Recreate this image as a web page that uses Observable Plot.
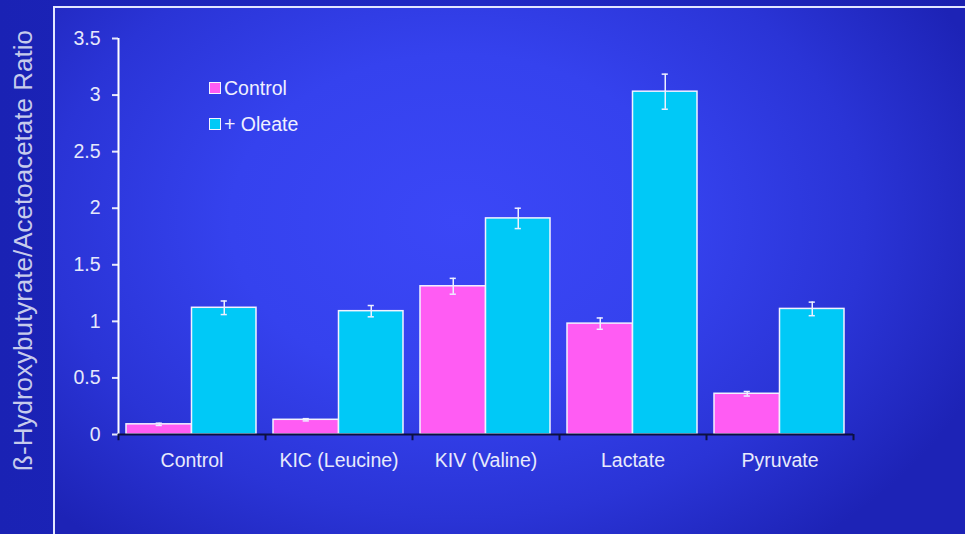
<!DOCTYPE html>
<html>
<head>
<meta charset="utf-8">
<script src="https://cdn.jsdelivr.net/npm/d3@7"></script>
<script src="https://cdn.jsdelivr.net/npm/@observablehq/plot@0.6"></script>
<style>
  html, body { margin: 0; padding: 0; background: #1c24b8; }
  #chart {
    position: relative; width: 965px; height: 534px; overflow: hidden;
    background: linear-gradient(90deg, #1a22b4 0%, #2029c6 50%, #1a20b0 100%);
    font-family: "Liberation Sans", Arial, Helvetica, sans-serif;
  }
  #panel {
    position: absolute; left: 53px; top: 6px; right: -4px; bottom: -4px;
    border-left: 2px solid #e2e6ff; border-top: 2px solid #e2e6ff;
    background: radial-gradient(ellipse 62% 78% at 44% 40%, #3b47f7 0%, #3542ee 40%, #2a34d6 72%, #1d23b6 100%);
  }
  #chart svg { position: absolute; left: 0; top: 0; overflow: visible; }
  #chart svg g[aria-label^="y-axis"] line, #chart svg g[aria-label^="y-axis"] path { stroke-width: 2px; }
  .legend { position: absolute; left: 209px; top: 70px; color: #f0f0ff; font-size: 19.5px; line-height: 36px; }
  .legend .item { display: flex; align-items: center; height: 36px; }
  .legend .sw { width: 10px; height: 10px; border: 1px solid #f4f4ff; margin-right: 3px; }
</style>
</head>
<body>
<div id="chart"><div id="panel"></div></div>
<script>
// Ratio of β-hydroxybutyrate to acetoacetate, mean ± error, per substrate
const categories = ["Control", "KIC (Leucine)", "KIV (Valine)", "Lactate", "Pyruvate"];
const series = ["Control", "+ Oleate"];
const controlMean = [0.09, 0.13, 1.31, 0.98, 0.36];
const controlErr  = [0.01, 0.01, 0.07, 0.05, 0.02];
const oleateMean  = [1.12, 1.09, 1.91, 3.03, 1.11];
const oleateErr   = [0.06, 0.05, 0.09, 0.155, 0.06];
const yTicks = [0, 0.5, 1, 1.5, 2, 2.5, 3, 3.5];
const colors = ["#ff5cf3", "#00c9f7"];

// one row per category and series; each category occupies one unit on x
const rows = categories.flatMap((c, i) => [
  {cat: c, s: 0, x1: i, x2: i + 0.5, v: controlMean[i], e: controlErr[i]},
  {cat: c, s: 1, x1: i + 0.5, x2: i + 1, v: oleateMean[i], e: oleateErr[i]}
]);
const ctrl = rows.filter(d => d.s === 0);
const olea = rows.filter(d => d.s === 1);
const boundaries = d3.range(categories.length + 1);

const errMarks = (data, dx) => [
  Plot.ruleX(data, {x: d => (d.x1 + d.x2) / 2, y1: d => d.v - d.e, y2: d => d.v + d.e, dx, stroke: "#eef0ff", strokeWidth: 1.5}),
  Plot.ruleY(data, {x1: d => (d.x1 + d.x2) / 2 - 0.021, x2: d => (d.x1 + d.x2) / 2 + 0.021, y: d => d.v + d.e, dx, stroke: "#eef0ff", strokeWidth: 1.5}),
  Plot.ruleY(data, {x1: d => (d.x1 + d.x2) / 2 - 0.021, x2: d => (d.x1 + d.x2) / 2 + 0.021, y: d => d.v - d.e, dx, stroke: "#eef0ff", strokeWidth: 1.5})
];

const chart = Plot.plot({
  width: 965,
  height: 534,
  marginLeft: 118,
  marginRight: 112,
  marginTop: 38,
  marginBottom: 100,
  style: {background: "transparent", color: "#e6e8fb", fontFamily: "'Liberation Sans', Arial, sans-serif", fontSize: "19.5px"},
  x: {domain: [0, categories.length], axis: null},
  y: {domain: [0, 3.5], ticks: yTicks, tickSize: 6, tickPadding: 12, tickFormat: d => String(d), label: null},
  marks: [
    // bars
    Plot.rectY(ctrl, {x1: "x1", x2: "x2", y1: 0, y2: "v", fill: colors[0], stroke: "#f2f2ff", strokeWidth: 1.5, insetLeft: 8}),
    Plot.rectY(olea, {x1: "x1", x2: "x2", y1: 0, y2: "v", fill: colors[1], stroke: "#f2f2ff", strokeWidth: 1.5, insetRight: 9}),
    // error bars
    ...errMarks(ctrl, 4),
    ...errMarks(olea, -4.5),
    // y axis line
    Plot.ruleX([0], {y1: 0, y2: 3.5, stroke: "#ffffff", strokeWidth: 2}),
    // x axis line and category boundary ticks
    Plot.ruleY([0], {x1: 0, x2: categories.length, stroke: "#0d1040", strokeWidth: 2}),
    Plot.ruleX(boundaries, {x: d => d, y1: 0, y2: -0.055, stroke: "#0d1040", strokeWidth: 2}),
    // category labels
    Plot.text(categories, {x: (d, i) => i + 0.5, y: 0, text: d => d, dy: 26, fill: "#e8eafc", fontSize: 19.5}),
    // y axis title
    Plot.text(["ß-Hydroxybutyrate/Acetoacetate Ratio"], {frameAnchor: "left", textAnchor: "middle", text: d => d, rotate: -90, dx: -95, dy: 14, fill: "#c6cbec", fontSize: 26})
  ]
});
document.getElementById("chart").appendChild(chart);

// legend
const legend = document.createElement("div");
legend.className = "legend";
series.forEach((name, i) => {
  const item = document.createElement("div");
  item.className = "item";
  const sw = document.createElement("span");
  sw.className = "sw";
  sw.style.background = colors[i];
  const label = document.createElement("span");
  label.textContent = name;
  item.appendChild(sw);
  item.appendChild(label);
  legend.appendChild(item);
});
document.getElementById("chart").appendChild(legend);
</script>
</body>
</html>
